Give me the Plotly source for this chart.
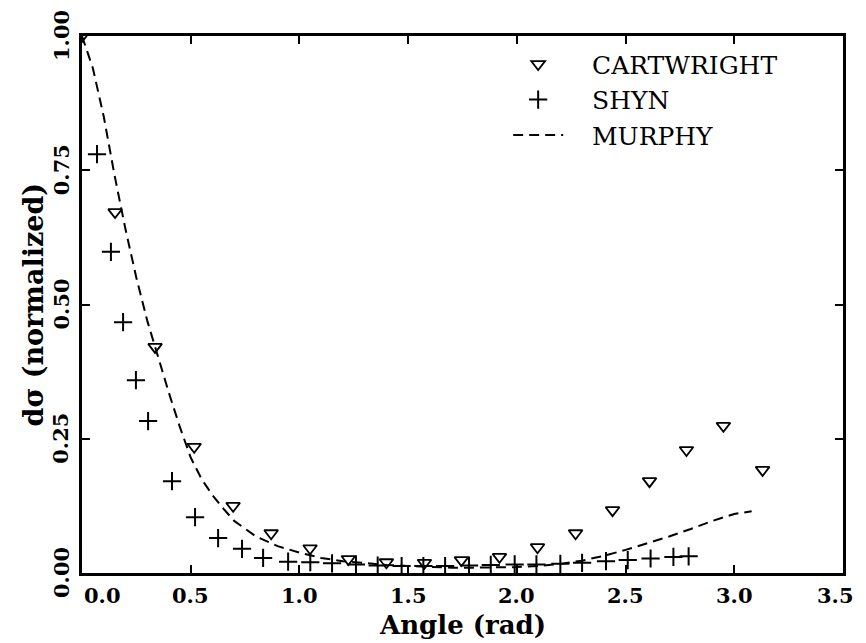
import plotly.graph_objects as go

# Normalized differential cross section versus scattering angle
cartwright_angle = [0.0, 0.152, 0.336, 0.516, 0.695, 0.870, 1.049, 1.225, 1.400, 1.575,
                    1.745, 1.920, 2.095, 2.270, 2.440, 2.610, 2.780, 2.950, 3.130]
cartwright_dsig = [1.00, 0.672, 0.421, 0.235, 0.125, 0.074, 0.046, 0.026, 0.020, 0.019,
                   0.024, 0.030, 0.048, 0.074, 0.117, 0.171, 0.229, 0.274, 0.192]

shyn_angle = [0.069, 0.133, 0.189, 0.248, 0.304, 0.414, 0.520, 0.626, 0.736, 0.833,
              0.948, 1.050, 1.150, 1.260, 1.360, 1.470, 1.570, 1.670, 1.780, 1.880,
              1.990, 2.090, 2.200, 2.300, 2.410, 2.510, 2.615, 2.720, 2.790]
shyn_dsig = [0.780, 0.598, 0.467, 0.359, 0.283, 0.171, 0.104, 0.065, 0.045, 0.028,
             0.021, 0.020, 0.018, 0.016, 0.014, 0.013, 0.013, 0.013, 0.014, 0.015,
             0.016, 0.016, 0.017, 0.019, 0.022, 0.024, 0.027, 0.030, 0.031]

murphy_angle = [0.0, 0.05, 0.10, 0.15, 0.20, 0.25, 0.30, 0.35, 0.40, 0.45, 0.50, 0.55,
                0.60, 0.65, 0.70, 0.80, 0.90, 1.00, 1.10, 1.20, 1.30, 1.40, 1.50, 1.60,
                1.70, 1.80, 1.90, 2.00, 2.10, 2.20, 2.30, 2.40, 2.50, 2.60, 2.70, 2.80,
                2.90, 3.00, 3.08]
murphy_dsig = [1.00, 0.94, 0.85, 0.74, 0.64, 0.55, 0.47, 0.40, 0.335, 0.272, 0.215, 0.175,
               0.145, 0.120, 0.097, 0.068, 0.050, 0.038, 0.028, 0.022, 0.018, 0.015, 0.013,
               0.011, 0.010, 0.010, 0.010, 0.011, 0.013, 0.017, 0.023, 0.032, 0.043, 0.055,
               0.068, 0.082, 0.097, 0.110, 0.115]

x_ticks = [0.0, 0.5, 1.0, 1.5, 2.0, 2.5, 3.0, 3.5]
x_tick_text = ["0.0", "0.5", "1.0", "1.5", "2.0", "2.5", "3.0", "3.5"]
y_ticks = [0.0, 0.25, 0.5, 0.75, 1.0]
y_tick_text = ["0.00", "0.25", "0.50", "0.75", "1.00"]

SERIF = "DejaVu Serif, Liberation Serif, serif"
INK = "black"
PAD = "\u00a0\u00a0\u00a0"  # gap between legend symbol and label

fig = go.Figure()
fig.add_trace(go.Scatter(
    x=cartwright_angle, y=cartwright_dsig, mode="markers",
    name=PAD + "CARTWRIGHT",
    marker=dict(symbol="triangle-down-open", size=12, color=INK, line=dict(width=1.8, color=INK)),
))
fig.add_trace(go.Scatter(
    x=shyn_angle, y=shyn_dsig, mode="markers",
    name=PAD + "SHYN",
    marker=dict(symbol="cross-thin-open", size=13, color=INK, line=dict(width=2, color=INK)),
))
fig.add_trace(go.Scatter(
    x=murphy_angle, y=murphy_dsig, mode="lines",
    name=PAD + "MURPHY",
    line=dict(color=INK, width=2, dash="10px,6px"),
))

axis_common = dict(
    showline=True, linewidth=2.5, linecolor=INK, mirror="ticks",
    ticks="inside", ticklen=8, tickwidth=2, tickcolor=INK,
    showgrid=False, zeroline=False, showticklabels=False,
)

fig.update_layout(
    width=866, height=643,
    margin=dict(l=82, r=23, t=36, b=70),
    paper_bgcolor="white", plot_bgcolor="white",
    font=dict(family=SERIF, color=INK),
    xaxis=dict(range=[0, 3.5], tickvals=x_ticks, **axis_common),
    yaxis=dict(range=[0, 1.0], tickvals=y_ticks, **axis_common),
    showlegend=True,
    legend=dict(
        x=0.56, y=0.99, xanchor="left", yanchor="top",
        bgcolor="rgba(0,0,0,0)", borderwidth=0,
        font=dict(family=SERIF, size=25, color=INK, weight="normal"),
        itemwidth=50, tracegroupgap=0,
    ),
)

# Tick labels (end labels nudged inward so they stay clear of the corner)
for i, (v, t) in enumerate(zip(x_ticks, x_tick_text)):
    shift = 20 if i == 0 else (-8 if i == len(x_ticks) - 1 else 0)
    fig.add_annotation(
        x=v, y=0, xref="x", yref="paper", text=t, showarrow=False,
        xanchor="center", yanchor="top", xshift=shift, yshift=-8,
        font=dict(family=SERIF, size=21, color=INK, weight="bold"),
    )
for v, t in zip(y_ticks, y_tick_text):
    fig.add_annotation(
        x=0, y=v, xref="paper", yref="y", text=t, showarrow=False,
        textangle=-90, xanchor="center", yanchor="middle", xshift=-21,
        font=dict(family=SERIF, size=21, color=INK, weight="bold"),
    )

# Axis titles
fig.add_annotation(
    x=0.5, y=0, xref="paper", yref="paper", text="Angle (rad)", showarrow=False,
    xanchor="center", yanchor="top", yshift=-35,
    font=dict(family=SERIF, size=26, color=INK, weight="bold"),
)
fig.add_annotation(
    x=0, y=0.5, xref="paper", yref="paper", text="d\u03c3 (normalized)", showarrow=False,
    textangle=-90, xanchor="center", yanchor="middle", xshift=-49,
    font=dict(family=SERIF, size=27, color=INK, weight="bold"),
)

fig.write_html("out.html")
